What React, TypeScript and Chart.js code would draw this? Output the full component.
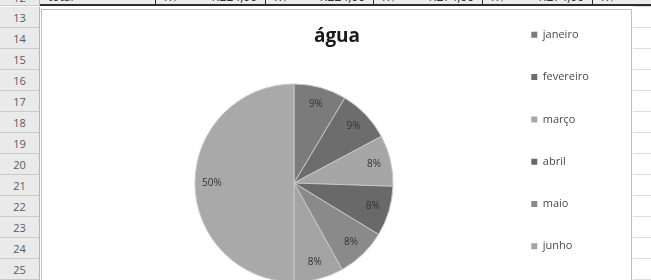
import { useEffect, useRef } from "react";
import { Chart, registerables } from "chart.js";

Chart.register(...registerables);

const categories = ["janeiro", "fevereiro", "março", "abril", "maio", "junho", "total"];
const values = [210, 211, 204, 200, 201, 198, 1224];
const sliceColors = ["#7b7b7b", "#6d6d6d", "#a6a6a6", "#696969", "#8a8a8a", "#a3a3a3", "#a9a9a9"];
const chartTitle = "água";
const rowNumbers = [12, 13, 14, 15, 16, 17, 18, 19, 20, 21, 22, 23, 24, 25];
const topRowLabel = "total";
const topRowCells = ["R$ 1.224,00", "R$ 1.224,00", "R$ 1.274,00", "R$ 1.274,00", "R$"];
const cellEdges = [155, 265, 373, 482, 592, 700];

const FONT = '"Open Sans", "DejaVu Sans", sans-serif';

const pctPlugin = {
  id: "pctLabels",
  afterDatasetsDraw(chart: any) {
    const ctx = chart.ctx;
    const meta = chart.getDatasetMeta(0);
    const data = chart.data.datasets[0].data as number[];
    const total = data.reduce((a: number, b: number) => a + b, 0);
    ctx.save();
    ctx.font = `10px ${FONT}`;
    ctx.fillStyle = "#333333";
    ctx.textAlign = "center";
    ctx.textBaseline = "middle";
    meta.data.forEach((arc: any, i: number) => {
      const { startAngle, endAngle, x, y, outerRadius } = arc.getProps(
        ["startAngle", "endAngle", "x", "y", "outerRadius"],
        true
      );
      const mid = (startAngle + endAngle) / 2;
      const r = outerRadius * 0.83;
      const label = Math.round((data[i] / total) * 100) + "%";
      ctx.fillText(label, x + Math.cos(mid) * r, y + Math.sin(mid) * r);
    });
    ctx.restore();
  },
};

// let the (narrow, layout-only) legend box draw its full label text
const legendClipPlugin = {
  id: "legendClip",
  afterLayout(chart: any) {
    const lg = chart.legend;
    if (lg) {
      lg.width = 140;
      lg.right = lg.left + 140;
    }
  },
};

export default function App() {
  const ref = useRef<HTMLCanvasElement | null>(null);

  useEffect(() => {
    if (!ref.current) return;
    const chart = new Chart(ref.current, {
      type: "pie",
      data: {
        labels: categories,
        datasets: [
          {
            data: values,
            backgroundColor: sliceColors,
            borderColor: "#c6c6c6",
            borderWidth: 1,
            radius: 99,
          } as any,
        ],
      },
      options: {
        responsive: false,
        animation: false,
        layout: { padding: { left: 46, right: 46, top: 0, bottom: 30.6 } },
        plugins: {
          tooltip: { enabled: false },
          title: {
            display: true,
            text: chartTitle,
            color: "#1a1a1a",
            font: { family: FONT, size: 19, weight: "bold", lineHeight: 1.2 },
            padding: { top: 27.6, bottom: -9.8 },
          },
          legend: {
            position: "right",
            align: "start",
            maxWidth: 86,
            labels: {
              boxWidth: 6,
              boxHeight: 6,
              padding: 31.3,
              color: "#4a4a4a",
              font: { family: FONT, size: 11 },
              generateLabels: (c: any) =>
                (Chart as any).overrides.pie.plugins.legend.labels
                  .generateLabels(c)
                  .map((l: any) => ({ ...l, lineWidth: 0 })),
            },
          },
        },
      },
      plugins: [pctPlugin, legendClipPlugin],
    });
    return () => chart.destroy();
  }, []);

  return (
    <div
      style={{
        position: "fixed",
        left: 0,
        top: 0,
        width: 651,
        height: 280,
        overflow: "hidden",
        background: "#ffffff",
        fontFamily: FONT,
      }}
    >
      {rowNumbers.map((n) => (
        <div
          key={"g" + n}
          style={{
            position: "absolute",
            left: 633,
            width: 18,
            top: 7 + (n - 13) * 21 + 20,
            height: 1,
            background: "#dcdcdc",
          }}
        />
      ))}
      <div
        style={{
          position: "absolute",
          left: 40,
          top: -13,
          width: 611,
          height: 17,
          background: "#ececec",
          borderBottom: "2px solid #2e2e2e",
        }}
      />
      <div
        style={{
          position: "absolute",
          left: 48,
          top: -10,
          fontSize: 12,
          color: "#333",
          lineHeight: "14px",
        }}
      >
        {topRowLabel}
      </div>
      {topRowCells.map((t, i) => (
        <div
          key={"c" + i}
          style={{
            position: "absolute",
            left: cellEdges[i],
            top: -13,
            width: cellEdges[i + 1] - cellEdges[i],
            height: 17,
            borderLeft: "1px solid #2e2e2e",
            boxSizing: "border-box",
          }}
        >
          <span
            style={{
              position: "absolute",
              left: 8,
              top: 3,
              fontSize: 12,
              color: "#333",
              lineHeight: "14px",
              whiteSpace: "nowrap",
            }}
          >
            {t.slice(0, 2)}
          </span>
          <span
            style={{
              position: "absolute",
              right: 8,
              top: 3,
              fontSize: 12,
              color: "#333",
              lineHeight: "14px",
              whiteSpace: "nowrap",
            }}
          >
            {t.slice(3)}
          </span>
        </div>
      ))}
      {rowNumbers.map((n) => (
        <div
          key={"r" + n}
          style={{
            position: "absolute",
            left: 0,
            top: n === 12 ? -13 : 7 + (n - 13) * 21,
            width: 40,
            height: n === 12 ? 19 : 21,
            background: "#eaeaea",
            borderBottom: "1px solid #c9c9c9",
            borderRight: "1px solid #b5b5b5",
            boxSizing: "border-box",
            textAlign: "center",
            fontSize: 11,
            lineHeight: n === 12 ? "22px" : "21px",
            color: "#5a5a5a",
          }}
        >
          {n}
        </div>
      ))}
      <div
        style={{
          position: "absolute",
          left: 41,
          top: 9,
          width: 591,
          height: 300,
          background: "#ffffff",
          border: "1px solid #bfbfbf",
          boxSizing: "border-box",
        }}
      />
      <canvas
        ref={ref}
        width={590}
        height={360}
        style={{ position: "absolute", left: 42, top: -2, width: 590, height: 360 }}
      />
    </div>
  );
}
